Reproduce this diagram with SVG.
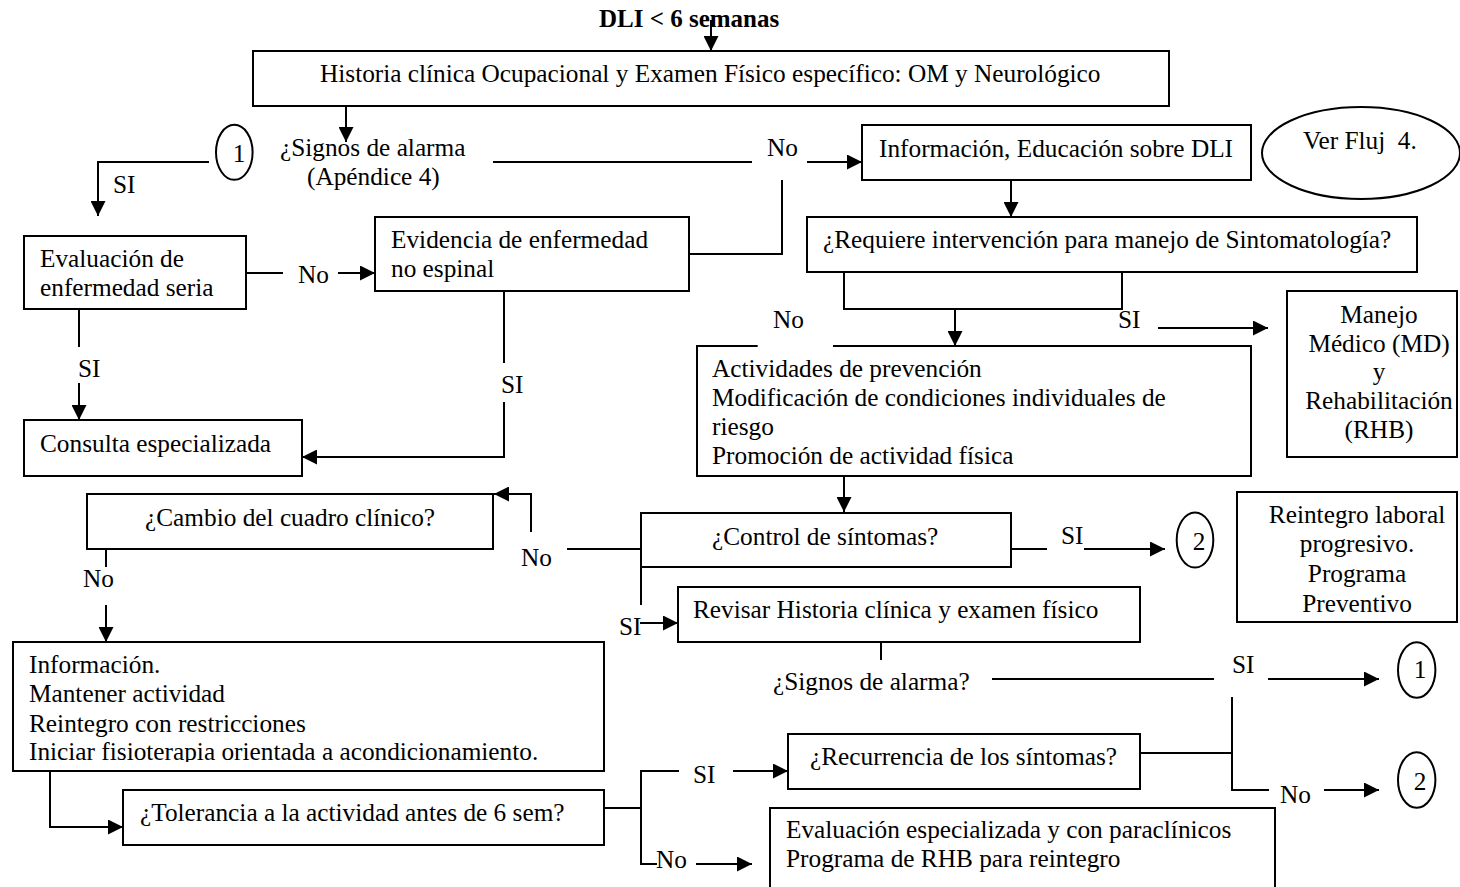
<svg xmlns="http://www.w3.org/2000/svg" width="1460" height="887" viewBox="0 0 1460 887">
<style>
text{font-family:"Liberation Serif","Times New Roman",serif;font-size:25.3px;fill:#000}
.b{fill:#fff;stroke:#000;stroke-width:2}
.c{fill:none;stroke:#000;stroke-width:2}
.a{fill:none;stroke:#000;stroke-width:2;marker-end:url(#ah)}
.m{text-anchor:middle}
.t{font-weight:bold;font-size:25px}
</style>
<defs>
<marker id="ah" markerUnits="userSpaceOnUse" markerWidth="15" markerHeight="15" viewBox="0 0 15 15" refX="15" refY="7.5" orient="auto"><path d="M0,0L15,7.5L0,15z" fill="#000"/></marker>
<clipPath id="clipInfo"><rect x="0" y="640" width="620" height="122"/></clipPath>
</defs>
<rect width="1460" height="887" fill="#fff"/>

<g id="title"><text class="t" x="599" y="27">DLI &lt; 6 semanas</text></g>
<g id="n-historia"><rect class="b" x="253" y="51" width="916" height="55"/><text x="320" y="82">Historia clínica Ocupacional y Examen Físico específico: OM y Neurológico</text></g>
<g id="n-signos"><text x="280" y="156">¿Signos de alarma</text><text x="307" y="185">(Apéndice 4)</text></g>
<g id="n-c1a"><ellipse class="b" cx="234.3" cy="152.3" rx="18.3" ry="27.5"/><text class="m" x="239" y="162">1</text></g>
<g id="n-info"><rect class="b" x="862" y="125" width="389" height="55"/><text x="879" y="157">Información, Educación sobre DLI</text></g>
<g id="n-verfluj"><ellipse class="b" cx="1361" cy="153" rx="99" ry="46"/><text x="1303" y="149" style="white-space:pre">Ver Fluj  4.</text></g>
<g id="n-evaluacion"><rect class="b" x="24" y="236" width="222" height="73"/><text x="40" y="267">Evaluación de</text><text x="40" y="296">enfermedad seria</text></g>
<g id="n-evidencia"><rect class="b" x="375" y="217" width="314" height="74"/><text x="391" y="248">Evidencia de enfermedad</text><text x="391" y="277">no espinal</text></g>
<g id="n-requiere"><rect class="b" x="807" y="217" width="610" height="55"/><text x="823" y="248">¿Requiere intervención para manejo de Sintomatología?</text></g>
<g id="n-manejo"><rect class="b" x="1287" y="291" width="170" height="166"/><text class="m" x="1379" y="323">Manejo</text><text class="m" x="1379" y="352">Médico (MD)</text><text class="m" x="1379" y="380">y</text><text class="m" x="1379" y="409">Rehabilitación</text><text class="m" x="1379" y="438">(RHB)</text></g>
<g id="n-actividades"><rect x="697" y="346" width="554" height="130" fill="#fff"/><path class="c" d="M757.7,346H697V476H1251V346H833"/><text x="712" y="377">Actividades de prevención</text><text x="712" y="406">Modificación de condiciones individuales de</text><text x="712" y="435">riesgo</text><text x="712" y="464">Promoción de actividad física</text></g>
<g id="n-consulta"><rect class="b" x="24" y="420" width="278" height="56"/><text x="40" y="452">Consulta especializada</text></g>
<g id="n-cambio"><rect class="b" x="87" y="494" width="406" height="55"/><text x="145" y="526">¿Cambio del cuadro clínico?</text></g>
<g id="n-control"><rect class="b" x="641" y="513" width="370" height="54"/><text x="712" y="545">¿Control de síntomas?</text></g>
<g id="n-c2a"><ellipse class="b" cx="1195" cy="540" rx="18.3" ry="27.5"/><text class="m" x="1199" y="550">2</text></g>
<g id="n-reintegro"><rect class="b" x="1237" y="492" width="220" height="130"/><text class="m" x="1357" y="523">Reintegro laboral</text><text class="m" x="1357" y="552">progresivo.</text><text class="m" x="1357" y="582">Programa</text><text class="m" x="1357" y="612">Preventivo</text></g>
<g id="n-revisar"><rect class="b" x="678" y="587" width="462" height="55"/><text x="693" y="618">Revisar Historia clínica y examen físico</text></g>
<g id="n-signos2"><text x="773" y="690">¿Signos de alarma?</text></g>
<g id="n-c1b"><ellipse class="b" cx="1416.7" cy="670" rx="18.7" ry="27.8"/><text class="m" x="1420" y="678">1</text></g>
<g id="n-info2"><rect class="b" x="13" y="642" width="591" height="129"/><text x="29" y="673">Información.</text><text x="29" y="702">Mantener actividad</text><text x="29" y="732">Reintegro con restricciones</text><text x="29" y="760" clip-path="url(#clipInfo)">Iniciar fisioterapia orientada a acondicionamiento.</text></g>
<g id="n-tolerancia"><rect class="b" x="123" y="790" width="481" height="55"/><text x="140" y="821">¿Tolerancia a la actividad antes de 6 sem?</text></g>
<g id="n-recurrencia"><rect class="b" x="788" y="734" width="352" height="55"/><text x="810" y="765">¿Recurrencia de los síntomas?</text></g>
<g id="n-c2b"><ellipse class="b" cx="1416.7" cy="780" rx="18.7" ry="27.8"/><text class="m" x="1420" y="790">2</text></g>
<g id="n-evalesp"><rect class="b" x="770" y="808" width="505" height="90"/><text x="786" y="838">Evaluación especializada y con paraclínicos</text><text x="786" y="867">Programa de RHB para reintegro</text></g>

<g id="connectors">
<path class="a" d="M711,20V51"/>
<path class="a" d="M346,106V142"/>
<path class="a" d="M209,162H98V216"/>
<path class="c" d="M493,162H752"/>
<path class="a" d="M807,162H862"/>
<path class="c" d="M782,180V254H689"/>
<path class="c" d="M246,273H283"/>
<path class="a" d="M338,273H375"/>
<path class="c" d="M79,309V347"/>
<path class="a" d="M79,383V420"/>
<path class="c" d="M504,291V363"/>
<path class="a" d="M504,402V457H302"/>
<path class="a" d="M1011,180V217"/>
<path class="c" d="M844,272V309H1122V272"/>
<path class="a" d="M955,309V346"/>
<path class="a" d="M1158,328H1268"/>
<path class="a" d="M844,476V512"/>
<path class="c" d="M641,549H567"/>
<path class="a" d="M531,532V494H494"/>
<path class="c" d="M1011,549H1047"/>
<path class="a" d="M1084,549H1165"/>
<path class="c" d="M641,567V605"/>
<path class="a" d="M640,623H678"/>
<path class="c" d="M106,549V567"/>
<path class="a" d="M106,605V642"/>
<path class="a" d="M50,771V827H123"/>
<path class="c" d="M604,808H641"/>
<path class="c" d="M679,771H641V864H657"/>
<path class="a" d="M733,771H788"/>
<path class="a" d="M696,864H752"/>
<path class="c" d="M881,642V660"/>
<path class="c" d="M992,679H1214"/>
<path class="a" d="M1268,679H1379"/>
<path class="c" d="M1140,753H1232"/>
<path class="c" d="M1232,697V790H1269"/>
<path class="a" d="M1324,790H1379"/>
<g id="labels">
<text x="113" y="193">SI</text>
<text x="767" y="156">No</text>
<text x="298" y="283">No</text>
<text x="78" y="377">SI</text>
<text x="501" y="393">SI</text>
<text x="773" y="328">No</text>
<text x="1118" y="328">SI</text>
<text x="521" y="566">No</text>
<text x="1061" y="544">SI</text>
<text x="619" y="635">SI</text>
<text x="83" y="587">No</text>
<text x="693" y="783">SI</text>
<text x="656" y="868">No</text>
<text x="1232" y="673">SI</text>
<text x="1280" y="803">No</text>
</g>
</g>
</svg>
